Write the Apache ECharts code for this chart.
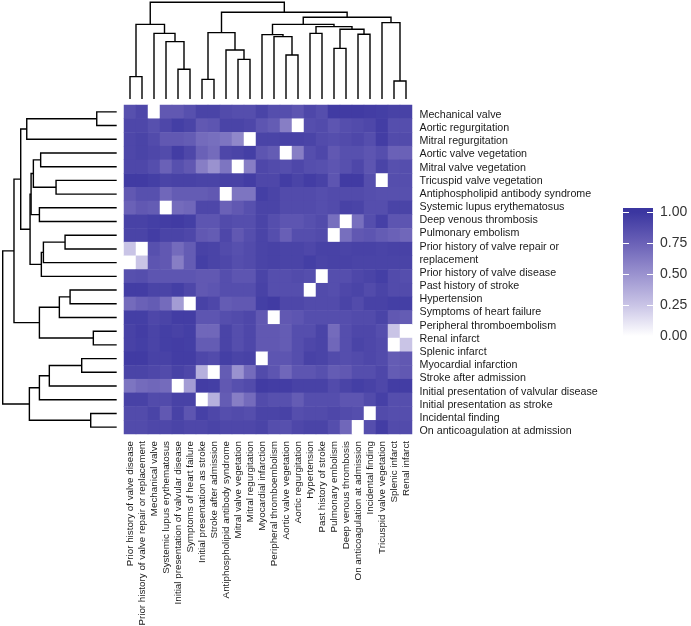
<!DOCTYPE html>
<html>
<head>
<meta charset="utf-8">
<script src="https://cdn.jsdelivr.net/npm/echarts@6.0.0/dist/echarts.min.js"></script>
<style>
  html, body { margin: 0; padding: 0; background: #ffffff; }
  #chart { width: 691px; height: 626px; }
</style>
</head>
<body>
<div id="chart"></div>
<script>
// ---- Data (display order, top-to-bottom rows / left-to-right columns) ----
const rowLabels = [
  "Mechanical valve", "Aortic regurgitation", "Mitral regurgitation", "Aortic valve vegetation",
  "Mitral valve vegetation", "Tricuspid valve vegetation", "Antiphospholipid antibody syndrome",
  "Systemic lupus erythematosus", "Deep venous thrombosis", "Pulmonary embolism",
  "Prior history of valve repair or replacement", "Prior history of valve disease",
  "Past history of stroke", "Hypertension", "Symptoms of heart failure", "Peripheral thromboembolism",
  "Renal infarct", "Splenic infarct", "Myocardial infarction", "Stroke after admission",
  "Initial presentation of valvular disease", "Initial presentation as stroke",
  "Incidental finding", "On anticoagulation at admission"
];

const colLabels = [
  "Prior history of valve disease", "Prior history of valve repair or replacement", "Mechanical valve",
  "Systemic lupus erythematosus", "Initial presentation of valvular disease", "Symptoms of heart failure",
  "Initial presentation as stroke", "Stroke after admission", "Antiphospholipid antibody syndrome",
  "Mitral valve vegetation", "Mitral regurgitation", "Myocardial infarction", "Peripheral thromboembolism",
  "Aortic valve vegetation", "Aortic regurgitation", "Hypertension", "Past history of stroke",
  "Pulmonary embolism", "Deep venous thrombosis", "On anticoagulation at admission", "Incidental finding",
  "Tricuspid valve vegetation", "Splenic infarct", "Renal infarct"
];

// cell values, one array per row (rowLabels order), columns in colLabels order
const values = [
  [0.85,0.90,0,0.80,0.80,0.85,0.92,0.92,0.88,0.86,0.86,0.92, 0.86,0.86,0.82,0.90,0.86,0.97,0.97,0.97,0.96,0.95,0.93,0.93],
  [0.90,0.90,0.85,0.90,0.95,0.92,0.80,0.82,0.92,0.92,0.90,0.82, 0.78,0.60,0,0.86,0.88,0.82,0.86,0.88,0.90,0.96,0.86,0.86],
  [0.90,0.92,0.88,0.80,0.80,0.78,0.70,0.68,0.65,0.55,0,0.92, 0.92,0.93,0.93,0.92,0.88,0.86,0.88,0.90,0.86,0.96,0.88,0.88],
  [0.90,0.92,0.90,0.88,0.96,0.90,0.75,0.70,0.90,0.92,0.95,0.82, 0.78,0,0.60,0.86,0.90,0.80,0.85,0.85,0.82,0.86,0.75,0.75],
  [0.90,0.90,0.86,0.75,0.85,0.80,0.60,0.50,0.65,0,0.60,0.90, 0.88,0.86,0.90,0.86,0.85,0.82,0.85,0.90,0.82,0.92,0.85,0.86],
  [0.97,0.97,0.95,0.92,0.93,0.93,0.92,0.92,0.93,0.93,0.96,0.90, 0.90,0.96,0.92,0.96,0.93,0.82,0.97,0.97,0.86,0,0.86,0.86],
  [0.80,0.85,0.85,0.72,0.78,0.78,0.78,0.80,0,0.65,0.65,0.95, 0.92,0.88,0.88,0.88,0.86,0.88,0.88,0.88,0.86,0.85,0.85,0.85],
  [0.75,0.80,0.78,0,0.70,0.72,0.90,0.90,0.75,0.80,0.85,0.92, 0.92,0.88,0.88,0.88,0.86,0.88,0.93,0.92,0.86,0.86,0.92,0.92],
  [0.93,0.93,0.95,0.96,0.97,0.95,0.82,0.82,0.88,0.86,0.86,0.92, 0.86,0.82,0.82,0.85,0.88,0.68,0,0.68,0.86,0.94,0.82,0.82],
  [0.92,0.92,0.96,0.92,0.92,0.90,0.80,0.78,0.90,0.80,0.86,0.92, 0.86,0.76,0.86,0.86,0.88,0,0.68,0.80,0.82,0.78,0.75,0.72],
  [0.25,0,0.85,0.80,0.70,0.78,0.93,0.92,0.88,0.85,0.88,0.92, 0.93,0.92,0.92,0.90,0.93,0.93,0.92,0.93,0.93,0.92,0.93,0.93],
  [0,0.25,0.82,0.80,0.60,0.78,0.95,0.92,0.90,0.86,0.88,0.92, 0.93,0.92,0.92,0.95,0.92,0.93,0.93,0.92,0.92,0.92,0.92,0.92],
  [0.85,0.86,0.82,0.82,0.82,0.82,0.80,0.80,0.86,0.82,0.82,0.92, 0.86,0.86,0.88,0.86,0,0.86,0.86,0.90,0.92,0.95,0.88,0.86],
  [0.96,0.96,0.92,0.92,0.95,0.90,0.80,0.82,0.86,0.86,0.86,0.93, 0.86,0.86,0.86,0,0.88,0.86,0.90,0.92,0.88,0.92,0.88,0.88],
  [0.70,0.75,0.78,0.70,0.45,0,0.93,0.90,0.78,0.80,0.80,0.95, 0.97,0.90,0.90,0.88,0.88,0.88,0.92,0.88,0.93,0.93,0.95,0.95],
  [0.95,0.95,0.90,0.92,0.96,0.96,0.82,0.82,0.86,0.88,0.90,0.80, 0,0.80,0.82,0.86,0.86,0.86,0.86,0.88,0.88,0.92,0.80,0.78],
  [0.93,0.96,0.92,0.95,0.93,0.95,0.72,0.72,0.92,0.86,0.90,0.80, 0.80,0.78,0.86,0.86,0.92,0.70,0.86,0.90,0.90,0.86,0.25,0],
  [0.93,0.95,0.92,0.95,0.96,0.95,0.78,0.78,0.92,0.86,0.90,0.80, 0.80,0.78,0.86,0.90,0.92,0.72,0.86,0.92,0.90,0.88,0,0.25],
  [0.97,0.97,0.93,0.93,0.96,0.96,0.90,0.88,0.95,0.92,0.93,0, 0.82,0.82,0.86,0.93,0.92,0.88,0.86,0.88,0.90,0.88,0.78,0.80],
  [0.92,0.92,0.90,0.88,0.93,0.90,0.35,0,0.78,0.50,0.70,0.88, 0.82,0.72,0.82,0.82,0.85,0.78,0.80,0.86,0.86,0.90,0.78,0.80],
  [0.65,0.70,0.72,0.70,0,0.45,0.96,0.95,0.80,0.85,0.88,0.97, 0.96,0.96,0.93,0.93,0.93,0.88,0.92,0.95,0.93,0.90,0.96,0.96],
  [0.93,0.93,0.88,0.88,0.93,0.93,0,0.35,0.78,0.60,0.70,0.88, 0.85,0.85,0.78,0.86,0.86,0.86,0.82,0.82,0.88,0.94,0.86,0.86],
  [0.88,0.88,0.92,0.80,0.93,0.82,0.94,0.90,0.86,0.88,0.86,0.92, 0.92,0.93,0.86,0.88,0.88,0.90,0.88,0.86,0,0.88,0.86,0.86],
  [0.88,0.88,0.90,0.90,0.92,0.90,0.90,0.92,0.90,0.90,0.90,0.92, 0.86,0.85,0.90,0.92,0.92,0.86,0.72,0,0.86,0.96,0.88,0.88]
];

// Dendrogram merges (R hclust convention: -k = leaf k in display order, +m = merge m), with heights
const colMerges = [
  [-1,-2,0.231], [-5,-6,0.307], [-4,2,0.593], [-3,3,0.679], [1,4,0.772],
  [-7,-8,0.203], [-10,-11,0.410], [-9,7,0.507], [6,8,0.686],
  [-14,-15,0.455], [-13,10,0.645], [-12,11,0.666], [-16,-17,0.679], [-18,-19,0.524],
  [-20,-21,0.669], [14,15,0.721], [13,16,0.748], [12,17,0.772], [-23,-24,0.186],
  [-22,19,0.790], [18,20,0.845], [9,21,0.897], [5,22,1.0]
];
const rowMerges = [
  [-1,-2,0.175], [1,-3,0.789], [-4,-5,0.667], [-6,-7,0.532], [3,4,0.731],
  [-8,-9,0.678], [5,6,0.751], [-10,-11,0.453], [8,-12,0.643], [9,-13,0.661],
  [7,10,0.760], [2,11,0.842], [-14,-15,0.409], [13,-16,0.503], [-17,-18,0.205],
  [14,15,0.678], [12,16,0.901], [-19,-20,0.307], [18,-21,0.591], [19,-22,0.678],
  [-23,-24,0.228], [20,21,0.766], [17,22,1.0]
];

const legendTicks = [0, 0.25, 0.5, 0.75, 1];
const colorStops = ['#ffffff', '#c9c4e6', '#9a92cf', '#6a61b7', '#3b36a0'];

// ---- Helpers ----
function dendroSegments(merges) {
  const pos = [], ht = [], segs = [];
  merges.forEach(function (m, i) {
    const a = m[0], b = m[1], h = m[2];
    const pa = a < 0 ? (-a - 0.5) : pos[a - 1];
    const ha = a < 0 ? 0 : ht[a - 1];
    const pb = b < 0 ? (-b - 0.5) : pos[b - 1];
    const hb = b < 0 ? 0 : ht[b - 1];
    pos[i] = (pa + pb) / 2;
    ht[i] = h;
    segs.push([pa, pb, ha, hb, h]);
  });
  return segs;
}
function wrapLabel(s, maxChars) {
  if (s.length <= maxChars) return s;
  const cut = s.lastIndexOf(' ', maxChars);
  return s.slice(0, cut) + '\n' + s.slice(cut + 1);
}

const FONT = '"Liberation Sans", Arial, Helvetica, sans-serif';
const TEXT_COLOR = '#1a1a1a';

// heatmap data
const heatData = [];
values.forEach(function (row, r) {
  row.forEach(function (v, c) { heatData.push([c, r, v]); });
});

// row labels with line-based positions
const wrappedRows = rowLabels.map(function (s) { return wrapLabel(s, 40); });
let lineCursor = 0;
const rowLabelData = wrappedRows.map(function (s) {
  const n = s.split('\n').length;
  const center = lineCursor + n / 2;
  lineCursor += n;
  return { value: [0, center], name: s };
});
const totalLines = lineCursor;
const LINE_H = 13.17;

const colSegs = dendroSegments(colMerges);
const rowSegs = dendroSegments(rowMerges);

const dendroStyle = { stroke: '#000000', lineWidth: 1.4, fill: null };

// ---- Legend (colour bar) geometry ----
const barX = 623, barW = 30, barTop = 208, barH = 132;
const yFor = function (v) { return 336 - 124 * v; };
const gradStops = colorStops.map(function (c, i) {
  const v = i / (colorStops.length - 1);
  return { offset: (yFor(v) - barTop) / barH, color: c };
}).reverse();
const legendGraphics = [{
  type: 'rect',
  shape: { x: barX, y: barTop, width: barW, height: barH },
  style: { fill: new echarts.graphic.LinearGradient(0, 0, 0, 1, gradStops) }
}];
legendTicks.forEach(function (v) {
  const y = Math.round(yFor(v)) + 0.5;
  legendGraphics.push({ type: 'line', shape: { x1: barX, y1: y, x2: barX + 6, y2: y }, style: { stroke: '#ffffff', lineWidth: 1 } });
  legendGraphics.push({ type: 'line', shape: { x1: barX + barW - 6, y1: y, x2: barX + barW, y2: y }, style: { stroke: '#ffffff', lineWidth: 1 } });
  legendGraphics.push({
    type: 'text', x: 660, y: yFor(v),
    style: { text: v.toFixed(2), fontSize: 14, fontFamily: FONT, fill: '#333333', verticalAlign: 'middle', align: 'left' }
  });
});

const chart = echarts.init(document.getElementById('chart'));
chart.setOption({
  animation: false,
  backgroundColor: '#ffffff',
  grid: [
    { left: 124, top: 105, width: 288, height: 329, containLabel: false, outerBoundsMode: 'none' },
    { left: 124, top: 2.3, width: 288, height: 96.7, containLabel: false, outerBoundsMode: 'none' },
    { left: 2.7, top: 105, width: 114, height: 329, containLabel: false, outerBoundsMode: 'none' },
    { left: 419, top: 115 - LINE_H / 2, width: 1, height: LINE_H * totalLines, containLabel: false, outerBoundsMode: 'none' }
  ],
  xAxis: [
    {
      type: 'category', gridIndex: 0, data: colLabels,
      axisLine: { show: false }, axisTick: { show: false }, splitLine: { show: false },
      axisLabel: { interval: 0, rotate: 90, margin: 7, fontSize: 9.8, fontFamily: FONT, color: TEXT_COLOR }
    },
    { type: 'value', gridIndex: 1, min: 0, max: colLabels.length, show: false },
    { type: 'value', gridIndex: 2, min: 0, max: 1, inverse: true, show: false },
    { type: 'value', gridIndex: 3, min: 0, max: 1, show: false }
  ],
  yAxis: [
    {
      type: 'category', gridIndex: 0, data: rowLabels, inverse: true,
      axisLine: { show: false }, axisTick: { show: false }, axisLabel: { show: false }, splitLine: { show: false }
    },
    { type: 'value', gridIndex: 1, min: 0, max: 1, show: false },
    { type: 'value', gridIndex: 2, min: 0, max: rowLabels.length, inverse: true, show: false },
    { type: 'value', gridIndex: 3, min: 0, max: totalLines, inverse: true, show: false }
  ],
  visualMap: {
    show: false, type: 'continuous', min: 0, max: 1, seriesIndex: 0,
    inRange: { color: colorStops }
  },
  graphic: legendGraphics,
  series: [
    {
      type: 'heatmap', xAxisIndex: 0, yAxisIndex: 0, data: heatData,
      itemStyle: { borderWidth: 0 },
      emphasis: { disabled: true }
    },
    {
      type: 'custom', xAxisIndex: 1, yAxisIndex: 1, data: colSegs,
      encode: { x: [0, 1], y: [2, 3, 4] },
      renderItem: function (params, api) {
        const p1 = api.coord([api.value(0), api.value(2)]);
        const p2 = api.coord([api.value(0), api.value(4)]);
        const p3 = api.coord([api.value(1), api.value(4)]);
        const p4 = api.coord([api.value(1), api.value(3)]);
        return { type: 'polyline', shape: { points: [p1, p2, p3, p4] }, style: dendroStyle };
      }
    },
    {
      type: 'custom', xAxisIndex: 2, yAxisIndex: 2, data: rowSegs,
      encode: { y: [0, 1], x: [2, 3, 4] },
      renderItem: function (params, api) {
        const p1 = api.coord([api.value(2), api.value(0)]);
        const p2 = api.coord([api.value(4), api.value(0)]);
        const p3 = api.coord([api.value(4), api.value(1)]);
        const p4 = api.coord([api.value(3), api.value(1)]);
        return { type: 'polyline', shape: { points: [p1, p2, p3, p4] }, style: dendroStyle };
      }
    },
    {
      type: 'scatter', xAxisIndex: 3, yAxisIndex: 3, data: rowLabelData,
      symbolSize: 1, itemStyle: { color: 'rgba(0,0,0,0)' },
      silent: true, clip: false,
      label: {
        show: true, position: 'right', distance: 0,
        formatter: function (p) { return p.name; },
        fontSize: 10.7, lineHeight: LINE_H, fontFamily: FONT, color: TEXT_COLOR, opacity: 1
      }
    }
  ]
});
</script>
</body>
</html>
